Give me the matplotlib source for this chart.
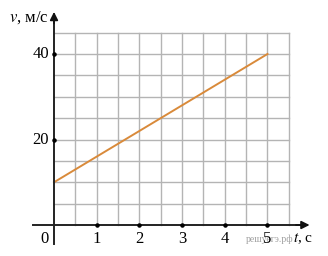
import numpy as np
import matplotlib
matplotlib.use("Agg")
import matplotlib.pyplot as plt

# data
t_vals = [0, 5]
v_vals = [10, 40]
x_ticks = [1, 2, 3, 4, 5]
y_ticks = [20, 40]

plt.rcParams["font.family"] = ["Liberation Serif", "DejaVu Serif"]
plt.rcParams["mathtext.fontset"] = "stix"

fig = plt.figure(figsize=(3.28, 2.56), dpi=100)
ax = fig.add_axes([0, 0, 1, 1])
ax.set_xlim(-1.265, 6.417)
ax.set_ylim(-7.25, 52.63)
ax.axis("off")

# grid
grid_c = "#b4b4b4"
for gx in np.arange(0.5, 5.51, 0.5):
    ax.plot([gx, gx], [0, 45], color=grid_c, lw=1.0, zorder=1)
for gy in np.arange(5, 45.1, 5):
    ax.plot([0, 5.5], [gy, gy], color=grid_c, lw=1.0, zorder=1)

# axes with arrows
ax.plot([0, 0], [-4.5, 48], color="#222222", lw=1.4, zorder=3)
ax.plot([-0.5, 5.9], [0, 0], color="#222222", lw=1.4, zorder=3)
ax.annotate("", xy=(0, 50.5), xytext=(0, 46.5),
            arrowprops=dict(arrowstyle="-|>", color="#111111", lw=1.2,
                            mutation_scale=12), zorder=4)
ax.annotate("", xy=(6.05, 0), xytext=(5.6, 0),
            arrowprops=dict(arrowstyle="-|>", color="#111111", lw=1.2,
                            mutation_scale=12), zorder=4)

# tick dots and labels
ax.scatter(x_ticks, [0] * len(x_ticks), s=5, color="black", zorder=5)
ax.scatter([0] * len(y_ticks), y_ticks, s=5, color="black", zorder=5)
for xt in x_ticks:
    ax.text(xt, -1.5, str(xt), ha="center", va="top", fontsize=12)
for yt in y_ticks:
    ax.text(-0.12, yt, str(yt), ha="right", va="center", fontsize=12)
ax.text(-0.22, -1.5, "0", ha="center", va="top", fontsize=12)

# the line
ax.plot(t_vals, v_vals, color="#d98a3a", lw=1.4, zorder=2)

# axis names
ax.text(-0.12, 48.6, "$v$, м/с", ha="right", va="center", fontsize=12)
ax.text(5.6, -1.5, "$t$, с", ha="left", va="top", fontsize=11)
ax.text(5.05, -3.4, "решуегэ.рф", ha="center", va="center", fontsize=7,
        color="#a0a0a0", zorder=0)

fig.savefig("out.png", dpi=100)
